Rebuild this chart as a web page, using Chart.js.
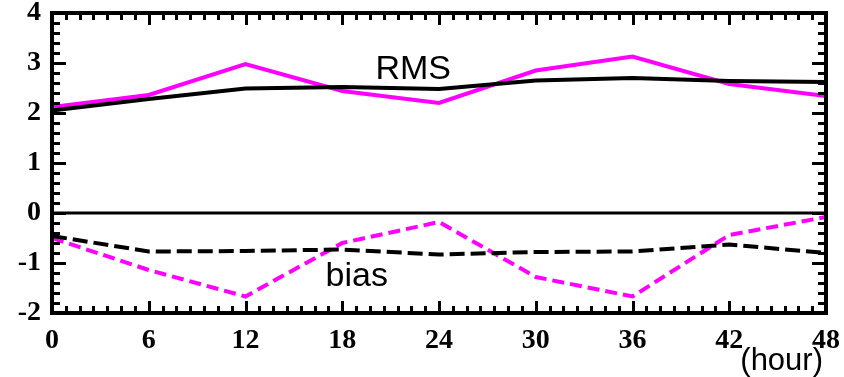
<!DOCTYPE html>
<html>
<head>
<meta charset="utf-8">
<script src="https://cdn.jsdelivr.net/npm/chart.js@4"></script>
<style>
  html, body { margin: 0; padding: 0; background: #fff; }
  #wrap { width: 844px; height: 377px; }
</style>
</head>
<body>
<div id="wrap"><canvas id="errChart" width="844" height="377"></canvas></div>
<script>
// forecast hour
var hours = [0, 6, 12, 18, 24, 30, 36, 42, 48];
// RMS error
var rmsBlack   = [2.05, 2.28, 2.49, 2.52, 2.48, 2.65, 2.70, 2.64, 2.62];
var rmsMagenta = [2.12, 2.36, 2.98, 2.44, 2.20, 2.85, 3.13, 2.58, 2.34];
// bias
var biasBlack   = [-0.46, -0.77, -0.76, -0.73, -0.83, -0.78, -0.77, -0.63, -0.80];
var biasMagenta = [-0.50, -1.14, -1.67, -0.60, -0.18, -1.28, -1.67, -0.44, -0.08];
var zeroLine = [0, 0];
var xTicks = [0, 6, 12, 18, 24, 30, 36, 42, 48];
var yTicks = [-2, -1, 0, 1, 2, 3, 4];

function pts(xs, ys) {
    return ys.map(function(v, i){ return {x: xs[i], y: v}; });
}

//border + inward ticks + text labels
var frame = {
    id: "frame",
    afterDatasetsDraw: function(chart){
        var ctx = chart.ctx;
        var a = chart.chartArea;
        var xs = chart.scales.x, ys = chart.scales.y;
        ctx.save();
        ctx.strokeStyle = "#000";
        ctx.lineWidth = 4;
        ctx.strokeRect(a.left, a.top, a.right - a.left, a.bottom - a.top);

        ctx.lineWidth = 3;
        ctx.beginPath();
        // x ticks, 7 minor per 6 hours
        for (var i = 0; i <= 56; i++) {
            var h = i * 6 / 7;
            var px = Math.round(xs.getPixelForValue(h)) + 0.5;
            var len = (i % 7 === 0) ? 12 : 7;
            ctx.moveTo(px, a.bottom); ctx.lineTo(px, a.bottom - len);
            ctx.moveTo(px, a.top); ctx.lineTo(px, a.top + len);
        }
        // y ticks, every 0.2
        for (var j = 0; j <= 30; j++) {
            var v = -2 + j * 0.2;
            var py = Math.round(ys.getPixelForValue(v)) + 0.5;
            var l = (j % 5 === 0) ? 14 : 8;
            ctx.moveTo(a.left, py); ctx.lineTo(a.left + l, py);
            ctx.moveTo(a.right, py); ctx.lineTo(a.right - l, py);
        }
        ctx.stroke();

        ctx.fillStyle = "#000";
        ctx.font = "34px 'Liberation Sans', Arial, sans-serif";
        ctx.textAlign = "center";
        ctx.textBaseline = "middle";
        ctx.fillText("RMS", xs.getPixelForValue(22.4), ys.getPixelForValue(2.86));
        ctx.fillText("bias", xs.getPixelForValue(18.9), ys.getPixelForValue(-1.28));
        ctx.textAlign = "right";
        ctx.textBaseline = "alphabetic";
        ctx.font = "31px 'Liberation Sans', Arial, sans-serif";
        ctx.fillText("(hour)", 823, 370);
        ctx.restore();
    }
};

var tickFont = { family: "'Liberation Serif', 'Times New Roman', serif", size: 28, weight: "bold" };

new Chart(document.getElementById("errChart"), {
    type: "line",
    data: {
        datasets: [
            { data: pts([0, 48], zeroLine), borderColor: "#000", borderWidth: 3 },
            { data: pts(hours, rmsBlack), borderColor: "#000", borderWidth: 4 },
            { data: pts(hours, rmsMagenta), borderColor: "#ff00ff", borderWidth: 4 },
            { data: pts(hours, biasBlack), borderColor: "#000", borderWidth: 4, borderDash: [15, 6] },
            { data: pts(hours, biasMagenta), borderColor: "#ff00ff", borderWidth: 4, borderDash: [12, 6] }
        ]
    },
    options: {
        responsive: false,
        animation: false,
        devicePixelRatio: 1,
        layout: { padding: { top: 13, right: 18, left: 0, bottom: 0 } },
        elements: { point: { radius: 0 }, line: { tension: 0, fill: false } },
        plugins: { legend: { display: false }, tooltip: { enabled: false } },
        scales: {
            x: {
                type: "linear", min: 0, max: 48,
                afterBuildTicks: function(s){ s.ticks = xTicks.map(function(v){ return {value: v}; }); },
                afterFit: function(s){ s.height = 64; s.paddingLeft = 0; s.paddingRight = 0; },
                grid: { display: false, drawTicks: false },
                border: { display: false },
                ticks: { font: tickFont, color: "#000", padding: 11, maxRotation: 0 }
            },
            y: {
                min: -2, max: 4,
                afterBuildTicks: function(s){ s.ticks = yTicks.map(function(v){ return {value: v}; }); },
                afterFit: function(s){ s.width = 52; s.paddingTop = 0; s.paddingBottom = 0; },
                grid: { display: false, drawTicks: false },
                border: { display: false },
                ticks: { font: tickFont, color: "#000", padding: 11 }
            }
        }
    },
    plugins: [frame]
});
</script>
</body>
</html>
